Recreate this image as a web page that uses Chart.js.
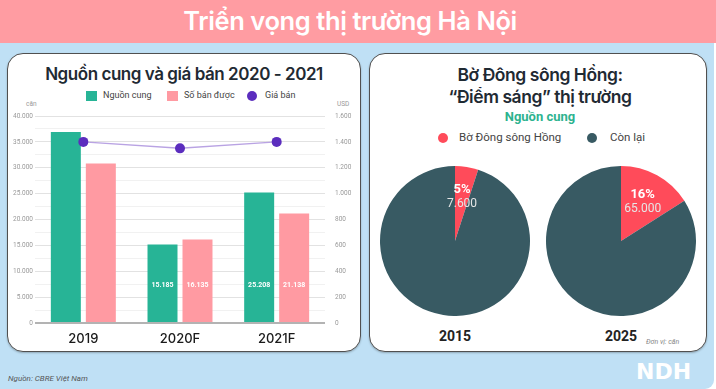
<!DOCTYPE html>
<html lang="vi">
<head>
<meta charset="utf-8">
<title>Triển vọng thị trường Hà Nội</title>
<script src="https://cdn.jsdelivr.net/npm/chart.js@4.4.1/dist/chart.umd.min.js"></script>
<style>
  html, body { margin: 0; padding: 0; background: #fff; }
  body { width: 716px; height: 389px; position: relative; overflow: hidden; font-family: Inter, Roboto, sans-serif; }
  .header { position: absolute; left: 0; top: 0; width: 716px; height: 43px; background: #FF9CA2; }
  .header h1 { margin: 0; position: absolute; left: 0; width: 700px; top: 5px; text-align: center; color: #fff; font-weight: 600; font-size: 25.5px; line-height: 32px; letter-spacing: -0.4px; }
  .panel { position: absolute; left: 0; top: 43px; width: 714px; height: 346px; background: #BFE0F5; border-bottom-right-radius: 9px; }
  .card { position: absolute; top: 53px; height: 297px; background: #fff; border: 1.5px solid #505050; border-radius: 16px; box-shadow: 0 1px 2px rgba(0,0,0,0.25); }
  .abs { position: absolute; white-space: nowrap; }
  .title { font-weight: 600; color: #1f2a33; text-align: center; }
  .leg { font-family: Roboto, sans-serif; color: #444; }
  .tick { font-family: Roboto, sans-serif; font-size: 6.5px; color: #999; }
  canvas { position: absolute; }
</style>
</head>
<body>
<div class="header"><h1>Triển vọng thị trường Hà Nội</h1></div>
<div class="panel"></div>

<div class="card" style="left:7px; width:352px;"></div>
<div class="card" style="left:369px; width:336px;"></div>

<!-- left card texts -->
<div class="abs title" style="left:8px; width:352px; top:64px; font-size:17px; letter-spacing:-0.45px;">Nguồn cung và giá bán 2020 - 2021</div>
<div class="abs" style="left:86px; top:91px; width:11px; height:10px; background:#27B496;"></div>
<div class="abs leg" style="left:103px; top:90px; font-size:9px;">Nguồn cung</div>
<div class="abs" style="left:167px; top:91px; width:11px; height:10px; background:#FF9AA2;"></div>
<div class="abs leg" style="left:184px; top:90px; font-size:9px;">Số bán được</div>
<div class="abs" style="left:247px; top:91px; width:10px; height:10px; border-radius:50%; background:#5B2DBE;"></div>
<div class="abs leg" style="left:265px; top:90px; font-size:9px;">Giá bán</div>
<div class="abs tick" style="left:26px; top:100px;">căn</div>
<div class="abs tick" style="left:337px; top:100px;">USD</div>
<canvas id="bars" width="362" height="254" style="left:0; top:98px; width:362px; height:254px;"></canvas>
<div class="abs" style="left:8px; top:374px; font-family:Roboto, sans-serif; font-style:italic; font-size:8px; color:#555;">Nguồn: CBRE Việt Nam</div>

<!-- right card texts -->
<div class="abs title" style="left:370px; width:340px; top:64px; line-height:22px; font-size:17.5px; letter-spacing:-0.45px;">Bờ Đông sông Hồng:<br>“Điểm sáng” thị trường</div>
<div class="abs" style="left:370px; width:340px; top:109px; text-align:center; font-family:Roboto, sans-serif; font-weight:700; font-size:13px; color:#2DB38F;">Nguồn cung</div>
<div class="abs" style="left:438px; top:133px; width:10px; height:10px; border-radius:50%; background:#FF4B5A;"></div>
<div class="abs leg" style="left:459px; top:130px; font-size:11.5px;">Bờ Đông sông Hồng</div>
<div class="abs" style="left:587px; top:133px; width:10px; height:10px; border-radius:50%; background:#385A63;"></div>
<div class="abs leg" style="left:610px; top:130px; font-size:11.5px;">Còn lại</div>
<canvas id="pie2015" width="150" height="150" style="left:380px; top:166px; width:150px; height:150px;"></canvas>
<canvas id="pie2025" width="150" height="150" style="left:546px; top:166px; width:150px; height:150px;"></canvas>
<div class="abs" style="left:405px; width:100px; top:328px; text-align:center; font-family:Roboto, sans-serif; font-weight:700; font-size:14px; color:#222;">2015</div>
<div class="abs" style="left:571px; width:100px; top:328px; text-align:center; font-family:Roboto, sans-serif; font-weight:700; font-size:14px; color:#222;">2025</div>
<div class="abs" style="left:646px; top:338px; font-family:Roboto, sans-serif; font-style:italic; font-size:7px; color:#888;">Đơn vị: căn</div>
<div class="abs" style="left:636px; top:359px; font-family:'DejaVu Sans', sans-serif; font-weight:900; font-size:22px; color:#fff;">NDH</div>

<script>
const categories = ['2019', '2020F', '2021F'];
const supply = [36900, 15185, 25208];
const sold = [30800, 16135, 21138];
const price = [1400, 1350, 1400];
const showBarLabel = [false, true, true];

const pieLabels = ['Bờ Đông sông Hồng', 'Còn lại'];
const pie2015 = [7600, 144400];
const pie2025 = [65000, 341250];
const piePercent = ['5%', '16%'];

const fmt = (v) => v.toLocaleString('de-DE');

new Chart(document.getElementById('bars'), {
    data: {
        labels: categories,
        datasets: [
            {
                type: 'line',
                label: 'Giá bán',
                data: price,
                yAxisID: 'y1',
                borderColor: '#B9A3E3',
                borderWidth: 1.5,
                pointRadius: 5,
                pointBackgroundColor: '#5B2DBE',
                pointBorderWidth: 0,
                order: 0,
            },
            {
                type: 'bar',
                label: 'Nguồn cung',
                data: supply,
                backgroundColor: '#27B496',
                categoryPercentage: 0.724,
                barPercentage: 0.857,
                order: 1,
            },
            {
                type: 'bar',
                label: 'Số bán được',
                data: sold,
                backgroundColor: '#FF9AA2',
                categoryPercentage: 0.724,
                barPercentage: 0.857,
                order: 1,
            },
        ],
    },
    plugins: [{
        // white value labels near the bottom of the 2020F / 2021F bars
        id: 'barLabels',
        afterDatasetsDraw(chart) {
            const { ctx } = chart;
            const y = chart.scales.y.getPixelForValue(7350);
            ctx.save();
            ctx.fillStyle = '#fff';
            ctx.font = 'bold 7px Roboto, sans-serif';
            ctx.textAlign = 'center';
            ctx.textBaseline = 'middle';
            [1, 2].forEach((di) => {
                chart.getDatasetMeta(di).data.forEach((bar, i) => {
                    if (!showBarLabel[i]) return;
                    ctx.fillText(fmt(chart.data.datasets[di].data[i]), bar.x, y);
                });
            });
            ctx.restore();
        },
    }],
    options: {
        responsive: false,
        animation: false,
        layout: { padding: { top: 18, left: 0, right: 0, bottom: 0 } },
        plugins: { legend: { display: false }, tooltip: { enabled: false } },
        scales: {
            x: {
                grid: { display: false },
                border: { display: false },
                ticks: { color: '#1a1a1a', font: { family: 'Inter', size: 13, weight: '500' }, padding: 0 },
                afterFit: (s) => { s.height = 29; },
            },
            y: {
                position: 'left',
                min: 0,
                max: 40000,
                border: { display: false },
                grid: {
                    drawTicks: false,
                    color: (c) => c.tick.value === 0 ? '#b3b3b3' : (c.tick.value % 5000 === 0 ? '#e2e2e2' : '#f1f1f1'),
                    lineWidth: (c) => c.tick.value === 0 ? 2 : 1,
                },
                ticks: {
                    stepSize: 2500,
                    padding: 2,
                    color: '#999',
                    font: { family: 'Roboto', size: 6.5 },
                    callback: (v) => v % 5000 === 0 ? fmt(v) : '',
                },
                afterFit: (s) => { s.width = 35; },
            },
            y1: {
                position: 'right',
                min: 0,
                max: 1600,
                border: { display: false },
                grid: { drawOnChartArea: false, drawTicks: false },
                ticks: {
                    stepSize: 200,
                    padding: 10,
                    color: '#999',
                    font: { family: 'Roboto', size: 6.5 },
                    callback: (v) => fmt(v),
                },
                afterFit: (s) => { s.width = 37; },
            },
        },
    },
});

function drawPie(id, values, percent) {
    new Chart(document.getElementById(id), {
        type: 'pie',
        data: {
            labels: pieLabels,
            datasets: [{
                data: values,
                backgroundColor: ['#FF4B5A', '#385A63'],
                borderWidth: 0,
            }],
        },
        plugins: [{
            id: 'pieLabel',
            afterDatasetsDraw(chart) {
                const arc = chart.getDatasetMeta(0).data[0];
                const a = (arc.startAngle + arc.endAngle) / 2;
                const r = arc.outerRadius * 0.6;
                const x = arc.x + Math.cos(a) * r;
                const y = arc.y + Math.sin(a) * r;
                const { ctx } = chart;
                ctx.save();
                ctx.textAlign = 'center';
                ctx.textBaseline = 'middle';
                ctx.fillStyle = '#fff';
                ctx.font = 'bold 13px Roboto, sans-serif';
                ctx.fillText(percent, x, y - 7);
                ctx.fillStyle = '#e6e6e6';
                ctx.font = '12px Roboto, sans-serif';
                ctx.fillText(fmt(values[0]), x, y + 7);
                ctx.restore();
            },
        }],
        options: {
            responsive: false,
            animation: false,
            layout: { padding: 0 },
            plugins: { legend: { display: false }, tooltip: { enabled: false } },
        },
    });
}

drawPie('pie2015', pie2015, piePercent[0]);
drawPie('pie2025', pie2025, piePercent[1]);
</script>
</body>
</html>
